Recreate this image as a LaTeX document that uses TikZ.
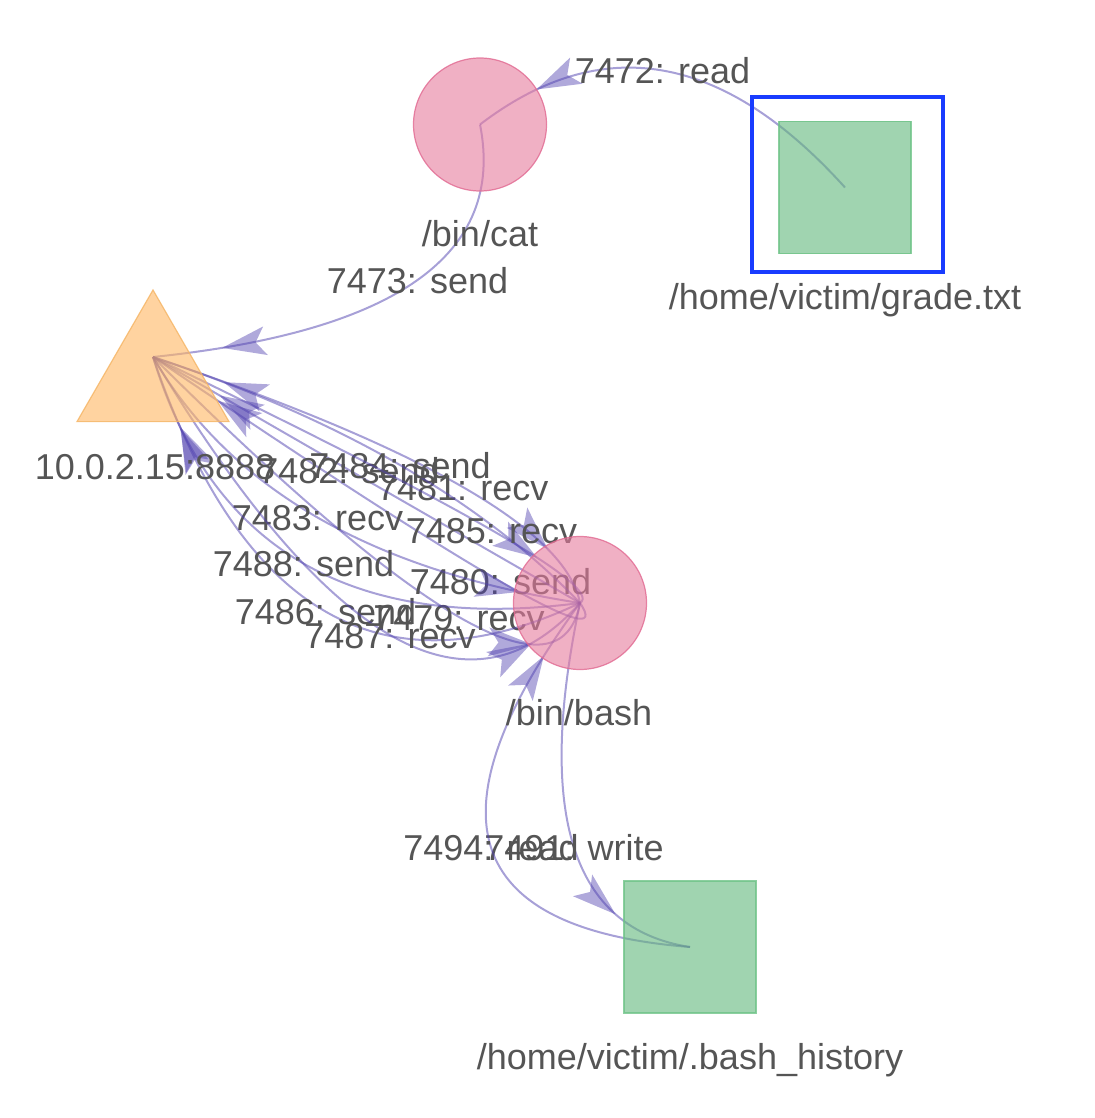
\documentclass[tikz,border=0pt]{standalone}
\usepackage{fontspec}
\setmainfont{Liberation Sans}
\usetikzlibrary{calc,shapes.geometric}
\pgfdeclarelayer{edgelayer}
\pgfsetlayers{edgelayer,main}

\definecolor{edgecol}{RGB}{80,65,175}
\definecolor{txtcol}{RGB}{85,85,85}
\definecolor{pinkfill}{RGB}{230,123,157}
\definecolor{pinkline}{RGB}{225,105,145}
\definecolor{greenfill}{RGB}{97,183,123}
\definecolor{greenline}{RGB}{110,195,135}
\definecolor{orangefill}{RGB}{255,182,97}
\definecolor{orangeline}{RGB}{245,180,100}
\definecolor{hlblue}{RGB}{25,60,255}

\tikzset{
  procnode/.style={circle, minimum size=133pt, inner sep=0pt, outer sep=0pt,
    fill=pinkfill, fill opacity=0.6, draw=pinkline, draw opacity=0.8, line width=1.2pt},
  filenode/.style={rectangle, minimum size=132pt, inner sep=0pt, outer sep=0pt,
    fill=greenfill, fill opacity=0.6, draw=greenline, draw opacity=0.8, line width=1.2pt},
  socknode/.style={regular polygon, regular polygon sides=3, minimum size=175.5pt,
    inner sep=0pt, outer sep=0pt, fill=orangefill, fill opacity=0.6,
    draw=orangeline, draw opacity=0.8, line width=1.2pt},
  nlabel/.style={text=txtcol, font=\fontsize{36}{40}\selectfont, inner sep=0pt,
    text height=26pt, text depth=0pt},
  elabel/.style={nlabel},
  edgeline/.style={draw=edgecol, draw opacity=0.5, line width=2pt},
  ahead/.pic={\fill[edgecol, fill opacity=0.45] (0,0) -- (-44,14.5) -- (-34,0) -- (-44,-14.5) -- cycle;},
  hlbox/.style={draw=hlblue, line width=4.5pt},
}

% quadratic edge: from, to, control point, arrow position, label, label name
\newcommand\qedge[6]{%
  \draw[edgeline] (#1.center) .. controls ($(#1.center)!0.6667!#3$) and ($(#2.center)!0.6667!#3$) .. (#2.center)
    pic[pos=#4, sloped] {ahead}
    node[pos=0.5, elabel] (#6) {#5};
}

\begin{document}
\begin{tikzpicture}[x=1pt, y=-1pt, allow upside down]
\useasboundingbox (0,0) rectangle (1094,1118);

% nodes
\node[procnode] (cat) at (480,124.5) {};
\node[filenode] (grade) at (845,187.5) {};
\node[socknode] (sock) at (153,377.75) {};
\coordinate (sockpt) at (153,357);
\node[procnode] (bash) at (580,603) {};
\node[filenode] (hist) at (690,947) {};

\draw[hlbox] ($(grade.center)+(-93,-90.5)$) rectangle ($(grade.center)+(98,84.5)$);

% node labels
\node[nlabel] (catlbl) at (480,233) {/bin/cat};
\node[nlabel] (gradelbl) at (845,296) {/home/victim/grade.txt};
\node[nlabel] (socklbl) at (155,466) {10.0.2.15:8888};
\node[nlabel] (bashlbl) at (579,712.5) {/bin/bash};
\node[nlabel] (histlbl) at (690,1056) {/home/victim/.bash\_history};

% edges, in the order they are drawn
\begin{pgfonlayer}{edgelayer}
\qedge{grade}{cat}{(662.5,-15)}{0.845}{7472: read}{l7472}
\qedge{cat}{sockpt}{(518.5,319.25)}{0.9}{7473: send}{l7473}
\qedge{sockpt}{bash}{(551.5,754)}{0.71}{7479: recv}{l7479}
\qedge{bash}{sockpt}{(634.5,683)}{0.93}{7480: send}{l7480}
\qedge{sockpt}{bash}{(559,494)}{0.76}{7481: recv}{l7481}
\qedge{bash}{sockpt}{(331.5,460)}{0.82}{7482: send}{l7482}
\qedge{sockpt}{bash}{(268.5,555)}{0.90}{7483: recv}{l7483}
\qedge{bash}{sockpt}{(433.5,450)}{0.87}{7484: send}{l7484}
\qedge{sockpt}{bash}{(616.5,580)}{0.625}{7485: recv}{l7485}
\qedge{bash}{sockpt}{(284.5,743)}{0.90}{7486: send}{l7486}
\qedge{sockpt}{bash}{(413.5,790)}{0.86}{7487: recv}{l7487}
\qedge{bash}{sockpt}{(240.5,647)}{0.87}{7488: send}{l7488}
\qedge{bash}{hist}{(513,920)}{0.745}{7491: write}{l7491}
\qedge{hist}{bash}{(347,920)}{0.913}{7494: read}{l7494}
\end{pgfonlayer}
\end{tikzpicture}
\end{document}
